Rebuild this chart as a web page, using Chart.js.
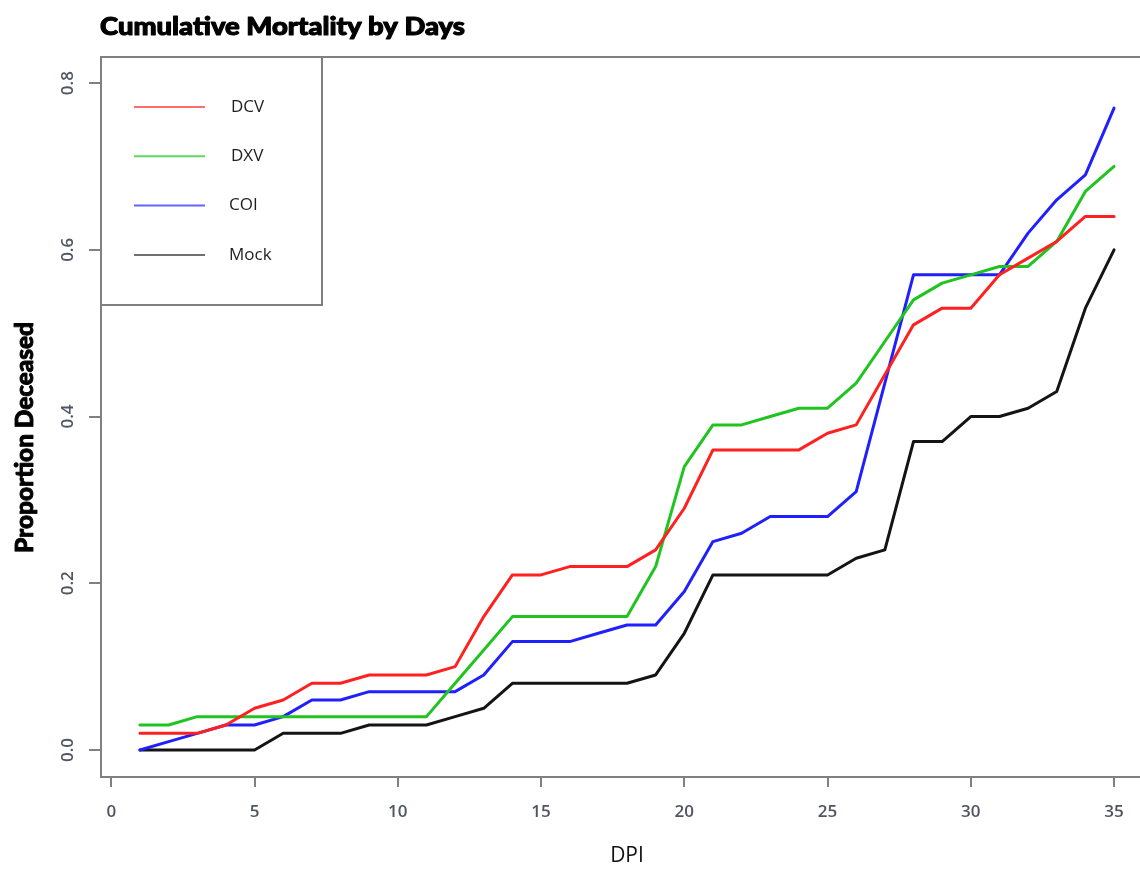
<!DOCTYPE html>
<html>
<head>
<meta charset="utf-8">
<title>Cumulative Mortality by Days</title>
<script src="https://cdn.jsdelivr.net/npm/chart.js@4/dist/chart.umd.min.js"></script>
<style>
  html, body { margin: 0; padding: 0; background: #fff; overflow: hidden; }
  #wrap { position: relative; width: 1160px; height: 869px; }
</style>
</head>
<body>
<div id="wrap"><canvas id="c" width="1160" height="869"></canvas></div>
<script>
// Days post infection
const days = [1, 2, 3, 4, 5, 6, 7, 8, 9, 10, 11, 12, 13, 14, 15, 16, 17, 18,
              19, 20, 21, 22, 23, 24, 25, 26, 27, 28, 29, 30, 31, 32, 33, 34, 35];

// Cumulative proportion deceased per group
const dcv  = [0.02, 0.02, 0.02, 0.03, 0.05, 0.06, 0.08, 0.08, 0.09, 0.09, 0.09, 0.10,
              0.16, 0.21, 0.21, 0.22, 0.22, 0.22, 0.24, 0.29, 0.36, 0.36, 0.36, 0.36,
              0.38, 0.39, 0.45, 0.51, 0.53, 0.53, 0.57, 0.59, 0.61, 0.64, 0.64];
const dxv  = [0.03, 0.03, 0.04, 0.04, 0.04, 0.04, 0.04, 0.04, 0.04, 0.04, 0.04, 0.08,
              0.12, 0.16, 0.16, 0.16, 0.16, 0.16, 0.22, 0.34, 0.39, 0.39, 0.40, 0.41,
              0.41, 0.44, 0.49, 0.54, 0.56, 0.57, 0.58, 0.58, 0.61, 0.67, 0.70];
const coi  = [0.00, 0.01, 0.02, 0.03, 0.03, 0.04, 0.06, 0.06, 0.07, 0.07, 0.07, 0.07,
              0.09, 0.13, 0.13, 0.13, 0.14, 0.15, 0.15, 0.19, 0.25, 0.26, 0.28, 0.28,
              0.28, 0.31, 0.44, 0.57, 0.57, 0.57, 0.57, 0.62, 0.66, 0.69, 0.77];
const mock = [0.00, 0.00, 0.00, 0.00, 0.00, 0.02, 0.02, 0.02, 0.03, 0.03, 0.03, 0.04,
              0.05, 0.08, 0.08, 0.08, 0.08, 0.08, 0.09, 0.14, 0.21, 0.21, 0.21, 0.21,
              0.21, 0.23, 0.24, 0.37, 0.37, 0.40, 0.40, 0.41, 0.43, 0.53, 0.60];

const seriesNames = ['DCV', 'DXV', 'COI', 'Mock'];
const xTickValues = [0, 5, 10, 15, 20, 25, 30, 35];
const yTickValues = [0.0, 0.2, 0.4, 0.6, 0.8];

const lineColors   = ['#ff2020', '#20c420', '#2020ff', '#141414'];
const legendColors = ['#ff6e6e', '#62d862', '#6464ff', '#707070'];
const frameColor = '#808080';
const tickTextColor = '#4f5562';

const seriesValues = [dcv, dxv, coi, mock];
const datasets = seriesValues.map((vals, i) => ({
  label: seriesNames[i],
  data: days.map((d, j) => ({ x: d, y: vals[j] })),
  borderColor: lineColors[i],
  backgroundColor: lineColors[i],
  borderWidth: 3,
  pointRadius: 0,
  tension: 0,
  borderJoinStyle: 'round',
  borderCapStyle: 'round',
  fill: false
}));

// heavy text squeezed/stretched horizontally to a target width
function fitText(ctx, text, x, y, width, font, rotate, stroke) {
  ctx.save();
  ctx.font = font;
  const w = ctx.measureText(text).width;
  ctx.translate(x, y);
  if (rotate) ctx.rotate(rotate);
  ctx.scale(width / w, 1);
  ctx.fillText(text, 0, 0);
  if (stroke) {
    ctx.lineWidth = stroke;
    ctx.lineJoin = 'round';
    ctx.strokeStyle = ctx.fillStyle;
    ctx.strokeText(text, 0, 0);
  }
  ctx.restore();
}

const decorations = {
  id: 'decorations',
  afterDraw(chart) {
    const { ctx, chartArea: a, scales } = chart;
    ctx.save();

    // remaining sides of the plot box
    ctx.strokeStyle = frameColor;
    ctx.lineWidth = 2;
    ctx.beginPath();
    ctx.moveTo(a.left - 1, a.top);
    ctx.lineTo(a.right, a.top);
    ctx.lineTo(a.right, a.bottom);
    ctx.stroke();

    // legend box
    const lx0 = a.left, ly0 = a.top, lx1 = 322, ly1 = 305;
    ctx.fillStyle = '#fff';
    ctx.fillRect(lx0, ly0, lx1 - lx0, ly1 - ly0);
    ctx.strokeRect(lx0, ly0, lx1 - lx0, ly1 - ly0);
    ctx.font = '17px "Open Sans"';
    ctx.textBaseline = 'middle';
    ctx.textAlign = 'left';
    seriesNames.forEach((name, i) => {
      const y = 107 + i * 49.3;
      ctx.strokeStyle = legendColors[i];
      ctx.lineWidth = 2;
      ctx.beginPath();
      ctx.moveTo(134, y);
      ctx.lineTo(205, y);
      ctx.stroke();
      ctx.fillStyle = '#1e1e1e';
      ctx.fillText(name, i >= 2 ? 229 : 231, y);
    });

    // y tick labels, rotated as in base graphics
    const ys = scales.y;
    ctx.fillStyle = tickTextColor;
    ctx.font = '600 17px "Open Sans"';
    ctx.textAlign = 'center';
    ctx.textBaseline = 'middle';
    ys.ticks.forEach(t => {
      const py = ys.getPixelForValue(t.value);
      ctx.save();
      ctx.translate(68, py);
      ctx.rotate(-Math.PI / 2);
      ctx.fillText(t.value.toFixed(1), 0, 0);
      ctx.restore();
    });

    // y axis title
    ctx.fillStyle = '#000';
    ctx.textAlign = 'center';
    ctx.textBaseline = 'middle';
    fitText(ctx, 'Proportion Deceased', 25, 437.5, 231, '900 24px Lato', -Math.PI / 2, 0.9);

    // main title
    ctx.textAlign = 'left';
    ctx.textBaseline = 'alphabetic';
    fitText(ctx, 'Cumulative Mortality by Days', 100, 35, 365, '900 25px Lato', 0, 1.1);

    ctx.restore();
  }
};

new Chart(document.getElementById('c'), {
  type: 'line',
  data: { datasets },
  plugins: [decorations],
  options: {
    responsive: false,
    devicePixelRatio: 1,
    animation: false,
    events: [],
    layout: { padding: { top: 57, right: 7, bottom: 0, left: 0 } },
    plugins: {
      legend: { display: false },
      title: { display: false },
      tooltip: { enabled: false }
    },
    scales: {
      x: {
        type: 'linear',
        min: -0.36,
        max: 36.36,
        afterBuildTicks: s => { s.ticks = xTickValues.map(v => ({ value: v })); },
        afterFit: s => { s.height = 92; },
        grid: { drawOnChartArea: false, drawTicks: true, tickLength: 10, color: frameColor, lineWidth: 2 },
        border: { display: true, color: frameColor, width: 2 },
        ticks: {
          autoSkip: false, maxRotation: 0, minRotation: 0, padding: 15,
          color: tickTextColor,
          font: { family: 'Open Sans', size: 17, weight: '600' }
        },
        title: {
          display: true, text: 'DPI', color: '#111',
          font: { family: 'Open Sans', size: 21 },
          padding: { top: 0, bottom: 0 }
        }
      },
      y: {
        type: 'linear',
        min: -0.0324,
        max: 0.8313,
        afterBuildTicks: s => { s.ticks = yTickValues.map(v => ({ value: v })); },
        afterFit: s => { s.width = 101; },
        grid: { drawOnChartArea: false, drawTicks: true, tickLength: 12, color: frameColor, lineWidth: 2 },
        border: { display: true, color: frameColor, width: 2 },
        ticks: { display: false }
      }
    }
  }
});
</script>
</body>
</html>
